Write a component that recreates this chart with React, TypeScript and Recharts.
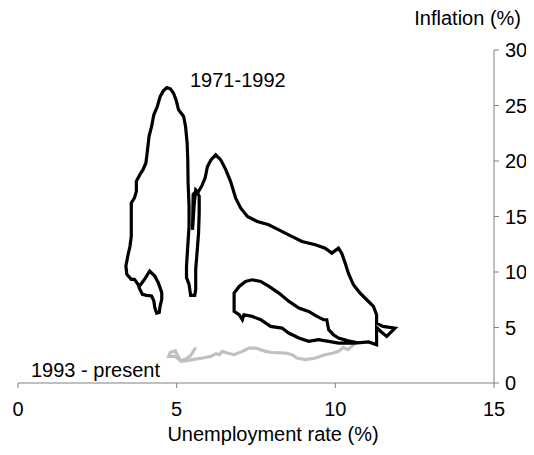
import { LineChart, Line, XAxis, YAxis } from 'recharts';

// 1971-1992 path, in time order
const unemp7192 = [
  3.83, 3.99, 4.15, 4.31, 4.42, 4.53, 4.53, 4.48, 4.45, 4.37, 4.31, 4.28, 4.21, 4.05, 3.92, 3.83, 3.78, 3.67, 3.57,
  3.43, 3.4, 3.46, 3.53, 3.57, 3.57, 3.67, 3.73, 3.73, 3.84, 3.94, 4.03, 4.07, 4.13, 4.21, 4.28, 4.39, 4.48, 4.58,
  4.69, 4.8, 4.9, 4.98, 5.06, 5.22, 5.28, 5.33, 5.35, 5.36, 5.39, 5.39, 5.35, 5.31, 5.31, 5.39, 5.42, 5.44, 5.57,
  5.6, 5.6, 5.65, 5.69, 5.71, 5.71, 5.62, 5.52, 5.5, 5.55, 5.6, 5.68, 5.8, 5.9, 5.97, 6.08, 6.23, 6.39, 6.55, 6.7,
  6.86, 7.02, 7.23, 7.54, 7.9, 8.22, 8.53, 8.95, 9.37, 9.68, 9.89, 10.1, 10.2, 10.31, 10.41, 10.57, 10.78, 10.99,
  11.2, 11.3, 11.3, 11.5, 11.88, 11.62, 11.45, 11.3, 11.3, 11.05, 10.6, 10.1, 9.79, 9.47, 9.16, 8.85, 8.53, 8.32,
  7.96, 7.65, 7.38, 7.12, 7.07, 6.97, 6.81, 6.81, 6.97, 7.17, 7.38, 7.65, 7.91, 8.22, 8.54, 8.85, 9.16, 9.42, 9.63,
  9.73, 9.79, 9.94, 10.1, 10.4, 10.75,
];
const infl7192 = [
  8.74, 9.34, 10.09, 9.64, 9.04, 8.14, 7.54, 6.95, 6.35, 6.29, 6.8, 7.4, 7.84, 7.9, 7.99, 8.5, 8.89, 9.34, 9.34,
  9.79, 10.54, 11.44, 12.34, 13.23, 16.23, 16.68, 17.28, 18.17, 18.77, 19.22, 19.82, 20.72, 22.22, 23.11, 24.16,
  24.91, 25.81, 26.32, 26.62, 26.5, 26.11, 25.51, 24.61, 24.01, 23.11, 21.62, 20.12, 18.02, 15.93, 14.13, 12.34,
  10.54, 9.49, 8.89, 8.29, 7.9, 7.9, 8.44, 10.24, 12.04, 13.53, 15.33, 16.83, 17.3, 17.0, 13.8, 16.0, 17.4, 17.2,
  17.8, 18.5, 19.5, 20.1, 20.55, 20.1, 19.2, 18.15, 16.65, 15.75, 15.0, 14.55, 14.25, 13.8, 13.35, 12.75, 12.45,
  12.15, 11.7, 12.15, 11.7, 10.8, 9.9, 8.85, 8.1, 7.5, 6.9, 6.15, 5.4, 5.1, 4.95, 4.2, 4.6, 5.0, 3.45, 3.7, 3.6,
  3.6, 3.75, 3.9, 3.75, 4.05, 4.5, 4.95, 5.1, 5.7, 6.0, 6.15, 5.7, 6.15, 6.45, 8.1, 8.7, 9.15, 9.3, 9.15, 8.7, 8.1,
  7.35, 6.75, 6.45, 6.0, 5.7, 5.7, 4.8, 4.35, 4.05, 3.8, 3.6,
];

// 1993 - present path
const unemp93 = [
  10.6, 10.4, 10.25, 10.1, 9.94, 9.68, 9.37, 9.06, 8.79, 8.64, 8.43, 8.01, 7.8, 7.49, 7.28, 7.07, 6.81, 6.6, 6.44,
  6.34, 6.24, 6.08, 5.82, 5.5, 5.19, 5.08, 4.95, 4.75, 4.8, 4.96, 5.01, 5.12, 5.28, 5.44, 5.6,
];
const infl93 = [
  3.5, 3.0, 3.2, 2.85, 2.7, 2.55, 2.25, 2.1, 2.25, 2.55, 2.7, 2.75, 2.85, 3.15, 3.15, 2.85, 2.55, 2.7, 2.85, 2.55,
  2.64, 2.4, 2.25, 2.1, 1.95, 2.1, 2.4, 2.4, 2.75, 2.9, 2.6, 2.0, 2.15, 2.46, 3.2,
];

const xTicks = [0, 5, 10, 15];
const yTicks = [0, 5, 10, 15, 20, 25, 30];

const early = unemp7192.map((u, i) => ({ u, inf: infl7192[i] }));
const late = unemp93.map((u, i) => ({ u, inf: infl93[i] }));

const font = '"Liberation Sans", Arial, sans-serif';
const tickStyle = { fill: '#000', fontSize: 20, fontFamily: font };

export default function App() {
  return (
    <div style={{ position: 'relative', width: 526, height: 439, fontFamily: font, fontSize: 20, color: '#000' }}>
      <style>{'.recharts-wrapper, .recharts-surface { overflow: visible !important; }'}</style>
      <LineChart width={526} height={439} margin={{ top: 42, right: 0, left: 10, bottom: 34 }}>
        <XAxis
          type="number"
          dataKey="u"
          domain={[0, 15]}
          ticks={xTicks}
          allowDataOverflow
          stroke="#808080"
          tick={tickStyle}
          tickSize={5}
          tickMargin={14}
          height={30}
        />
        <YAxis
          type="number"
          orientation="right"
          domain={[0, 30]}
          ticks={yTicks}
          allowDataOverflow
          stroke="#808080"
          tick={tickStyle}
          tickSize={5}
          tickMargin={6}
          width={40}
        />
        <Line data={late} dataKey="inf" stroke="#c0c0c0" strokeWidth={3.2} dot={false} isAnimationActive={false} />
        <Line data={early} dataKey="inf" stroke="#000" strokeWidth={3.2} dot={false} isAnimationActive={false} />
      </LineChart>
      <div style={{ position: 'absolute', right: 13, top: 0, lineHeight: '20px' }}>Inflation (%)</div>
      <div style={{ position: 'absolute', left: 182, top: 62, lineHeight: '20px' }}>1971-1992</div>
      <div style={{ position: 'absolute', left: 23, top: 352, lineHeight: '20px' }}>1993 - present</div>
      <div style={{ position: 'absolute', left: 0, width: 530, textAlign: 'center', top: 416, lineHeight: '20px' }}>
        Unemployment rate (%)
      </div>
    </div>
  );
}
